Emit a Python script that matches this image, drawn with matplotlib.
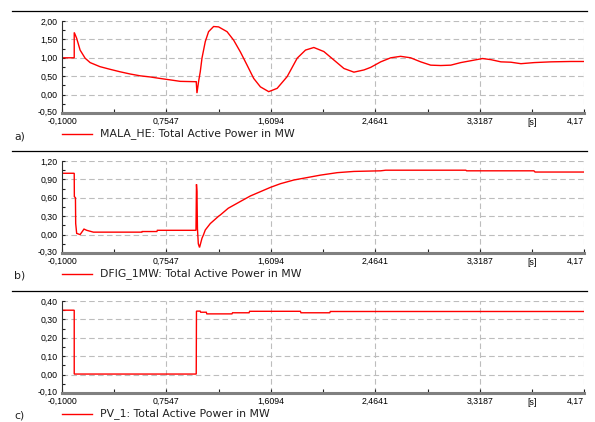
import matplotlib
matplotlib.use("Agg")
import matplotlib.pyplot as plt
import matplotlib.transforms as mtransforms
from matplotlib.lines import Line2D

# ---------------- data ----------------
t_a = [-0.1, 0.0, 0.0, 0.02, 0.048, 0.089, 0.13, 0.21, 0.29, 0.375, 0.457, 0.54, 0.62,
       0.70, 0.785, 0.867, 0.998, 1.004, 1.017, 1.031, 1.045, 1.072, 1.099, 1.14, 1.181,
       1.25, 1.304, 1.359, 1.414, 1.468, 1.523, 1.591, 1.66, 1.742, 1.824, 1.892, 1.96,
       2.042, 2.124, 2.206, 2.288, 2.37, 2.425, 2.507, 2.589, 2.67, 2.752, 2.834, 2.916,
       2.998, 3.08, 3.162, 3.244, 3.34, 3.408, 3.49, 3.572, 3.654, 3.763, 3.9, 4.064, 4.17]
p_a = [1.00, 1.00, 1.69, 1.53, 1.21, 0.99, 0.87, 0.76, 0.69, 0.62, 0.56, 0.51, 0.48,
       0.44, 0.40, 0.36, 0.35, 0.04, 0.35, 0.62, 0.99, 1.44, 1.71, 1.85, 1.84,
       1.71, 1.48, 1.16, 0.80, 0.44, 0.21, 0.08, 0.17, 0.49, 0.99, 1.21, 1.28,
       1.17, 0.94, 0.71, 0.61, 0.67, 0.74, 0.89, 1.00, 1.04, 1.00, 0.89, 0.80,
       0.79, 0.80, 0.87, 0.92, 0.98, 0.95, 0.89, 0.88, 0.84, 0.87, 0.89, 0.90, 0.90]

t_b = [-0.1, 0.0, 0.001, 0.01, 0.012, 0.02, 0.048, 0.08, 0.102, 0.157, 0.553, 0.556,
       0.676, 0.68, 0.996, 1.0, 1.004, 1.008, 1.015, 1.025, 1.045, 1.058, 1.072, 1.113,
       1.181, 1.195, 1.26, 1.359, 1.441, 1.523, 1.605, 1.687, 1.796, 1.906, 2.015, 2.152,
       2.288, 2.507, 2.548, 3.203, 3.21, 3.76, 3.77, 4.17]
p_b = [1.00, 1.00, 0.62, 0.60, 0.18, 0.02, 0.00, 0.09, 0.07, 0.04, 0.04, 0.05,
       0.05, 0.07, 0.07, 0.82, 0.70, 0.10, -0.15, -0.21, -0.06, 0.00, 0.075, 0.18,
       0.30, 0.32, 0.43, 0.54, 0.63, 0.70, 0.77, 0.83, 0.89, 0.93, 0.97, 1.01,
       1.03, 1.04, 1.05, 1.05, 1.04, 1.04, 1.02, 1.02]

t_c = [-0.1, 0.0, 0.0, 0.998, 1.0, 1.03, 1.035, 1.08, 1.085, 1.29, 1.295, 1.43, 1.435,
       1.85, 1.855, 2.09, 2.095, 4.17]
p_c = [0.35, 0.35, 0.003, 0.003, 0.345, 0.345, 0.339, 0.339, 0.33, 0.33, 0.336, 0.336,
       0.344, 0.344, 0.336, 0.336, 0.343, 0.343]

x_major = [-0.1, 0.7547, 1.6094, 2.4641, 3.3187, 4.17]
x_major_labels = ["-0,1000", "0,7547", "1,6094", "2,4641", "3,3187", "4,17"]
x_minor = [0.32735, 1.18205, 2.03675, 2.8914, 3.74435]
x_unit = "[s]"

y_ticks_a = [-0.5, 0.0, 0.5, 1.0, 1.5, 2.0]
y_ticks_b = [-0.3, 0.0, 0.3, 0.6, 0.9, 1.2]
y_ticks_c = [-0.1, 0.0, 0.1, 0.2, 0.3, 0.4]

panel_tags = ["a)", "b)", "c)"]
legend_texts = ["MALA_HE: Total Active Power in MW",
                "DFIG_1MW: Total Active Power in MW",
                "PV_1: Total Active Power in MW"]

# ---------------- figure ----------------
plt.rcParams['font.family'] = ['Liberation Sans', 'DejaVu Sans']
W, H = 595, 422
fig = plt.figure(figsize=(W / 100, H / 100), dpi=100)
fig.patch.set_facecolor('white')

RED = '#ff0000'
GRID = '#bdbdbd'

left_px, right_px = 62, 584
panels = [
    (t_a, p_a, y_ticks_a, 21, 113, 11, 134),
    (t_b, p_b, y_ticks_b, 161, 253, 151, 274),
    (t_c, p_c, y_ticks_c, 301, 393, 291, 414),
]

for i, (tt, pp, yt, top_px, bot_px, sep_px, leg_px) in enumerate(panels):
    ax = fig.add_axes([left_px / W, 1 - bot_px / H,
                       (right_px - left_px) / W, (bot_px - top_px) / H])
    ax.plot(tt, pp, color=RED, lw=1.0, solid_joinstyle='miter')
    ax.set_xlim(x_major[0], x_major[-1])
    ax.set_ylim(yt[0], yt[-1])

    # grid
    for y in yt[1:]:
        ax.axhline(y, color=GRID, lw=0.8, ls=(0, (5, 3)), zorder=0)
    for x in x_major[1:]:
        ax.axvline(x, color=GRID, lw=0.8, ls=(0, (5, 3)), zorder=0)

    for s in ['top', 'right']:
        ax.spines[s].set_visible(False)
    ax.spines['left'].set_color('#303030')
    ax.spines['left'].set_linewidth(0.8)
    ax.spines['bottom'].set_color('#808080')
    ax.spines['bottom'].set_linewidth(2.2)

    # x ticks
    ax.set_xticks(x_major)
    ax.set_xticklabels(x_major_labels)
    ax.set_xticks(x_minor, minor=True)
    ax.tick_params(axis='x', which='both', direction='in', length=3, width=0.8,
                   color='#202020', labelsize=6.3, pad=3.0)
    labs = ax.get_xticklabels()
    labs[-1].set_horizontalalignment('right')
    ax.text(x_minor[-1], -0.05, x_unit, transform=ax.get_xaxis_transform(),
            ha='center', va='top', fontsize=6.3)

    # y ticks
    ax.set_yticks(yt)
    ax.set_yticklabels([("%.2f" % v).replace('.', ',') for v in yt])
    ax.set_yticks([(a + b) / 2 for a, b in zip(yt[:-1], yt[1:])], minor=True)
    ax.tick_params(axis='y', which='both', direction='in', length=2.5, width=0.8,
                   color='#202020', labelsize=6.3, pad=3)
    ylabs = ax.get_yticklabels()
    ylabs[0].set_transform(ylabs[0].get_transform() +
                           mtransforms.ScaledTranslation(0, 1.5 / 100, fig.dpi_scale_trans))

    # separator line
    fig.add_artist(Line2D([12 / W, 587 / W], [1 - sep_px / H, 1 - sep_px / H],
                          color='black', lw=0.9))
    # legend
    yl = 1 - leg_px / H
    fig.add_artist(Line2D([62 / W, 92 / W], [yl, yl], color=RED, lw=1.0))
    fig.text(100 / W, yl, legend_texts[i], fontsize=7.8, va='center', ha='left',
             color='#202020', family=['DejaVu Sans'])
    fig.text(14 / W, yl - 2 / H, panel_tags[i], fontsize=7.8, va='center', ha='left',
             color='#202020', family=['DejaVu Sans'])

fig.savefig('out.png', dpi=100)
